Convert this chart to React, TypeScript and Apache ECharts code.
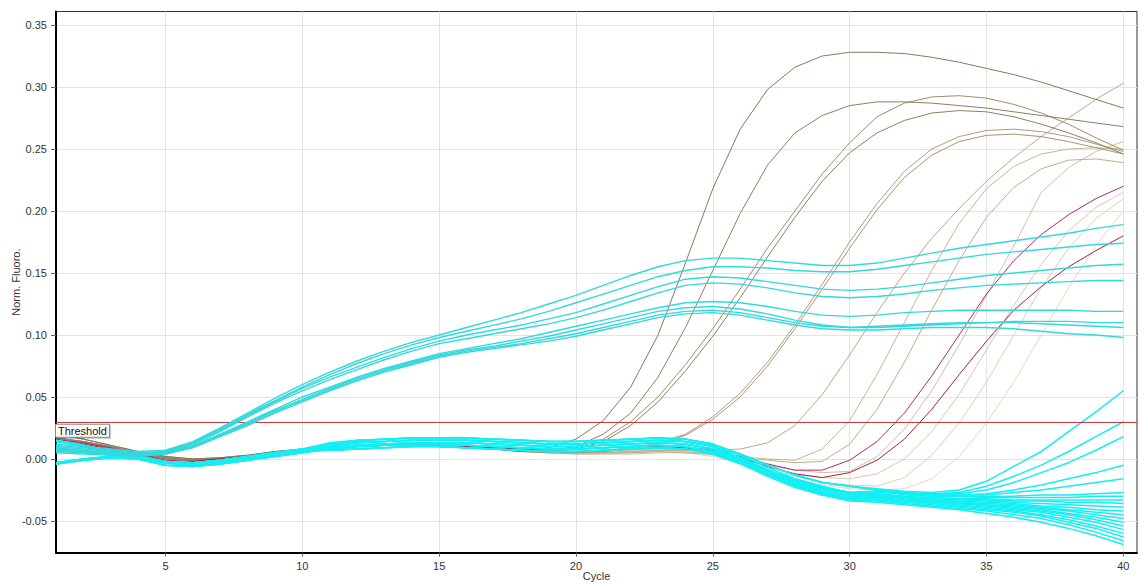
import { useEffect, useRef } from 'react';
import * as echarts from 'echarts';

// ---------- data ----------
const cycles = [1, 2, 3, 4, 5, 6, 7, 8, 9, 10, 11, 12, 13, 14, 15, 16, 17, 18, 19, 20, 21, 22, 23, 24, 25, 26, 27, 28, 29, 30, 31, 32, 33, 34, 35, 36, 37, 38, 39, 40];
const xTickValues = [5, 10, 15, 20, 25, 30, 35, 40];
const yTickValues = [-0.05, 0, 0.05, 0.1, 0.15, 0.2, 0.25, 0.3, 0.35];
const threshold = 0.029;

// amplification curves (brown / tan)
const b1 = [0.020, 0.016, 0.011, 0.006, 0.002, 0.000, 0.001, 0.003, 0.006, 0.008, 0.010, 0.011, 0.012, 0.012, 0.012, 0.011, 0.010, 0.008, 0.009, 0.016, 0.031, 0.058, 0.100, 0.158, 0.218, 0.266, 0.298, 0.316, 0.325, 0.328, 0.328, 0.327, 0.324, 0.320, 0.315, 0.310, 0.304, 0.297, 0.290, 0.283];
const b2 = [0.017, 0.014, 0.010, 0.005, 0.001, -0.001, 0.000, 0.002, 0.005, 0.007, 0.009, 0.010, 0.011, 0.011, 0.011, 0.010, 0.009, 0.007, 0.007, 0.010, 0.020, 0.037, 0.066, 0.106, 0.152, 0.198, 0.237, 0.263, 0.277, 0.285, 0.288, 0.288, 0.287, 0.285, 0.283, 0.280, 0.277, 0.274, 0.271, 0.268];
const b3 = [0.017, 0.014, 0.010, 0.005, 0.001, -0.001, 0.000, 0.002, 0.005, 0.007, 0.009, 0.010, 0.011, 0.011, 0.011, 0.010, 0.009, 0.007, 0.007, 0.009, 0.016, 0.030, 0.050, 0.076, 0.105, 0.137, 0.170, 0.200, 0.230, 0.255, 0.276, 0.287, 0.292, 0.293, 0.291, 0.286, 0.279, 0.270, 0.259, 0.249];
const b4 = [0.015, 0.013, 0.009, 0.004, 0.000, -0.001, 0.000, 0.002, 0.004, 0.007, 0.009, 0.010, 0.011, 0.011, 0.010, 0.009, 0.008, 0.006, 0.006, 0.008, 0.014, 0.027, 0.046, 0.071, 0.099, 0.130, 0.163, 0.195, 0.224, 0.247, 0.263, 0.273, 0.279, 0.281, 0.280, 0.276, 0.270, 0.263, 0.255, 0.246];
const b5 = [0.020, 0.016, 0.011, 0.006, 0.002, 0.000, 0.001, 0.003, 0.006, 0.008, 0.010, 0.011, 0.012, 0.012, 0.012, 0.011, 0.010, 0.007, 0.006, 0.006, 0.007, 0.009, 0.013, 0.020, 0.034, 0.053, 0.078, 0.108, 0.141, 0.175, 0.206, 0.232, 0.250, 0.260, 0.265, 0.266, 0.264, 0.260, 0.254, 0.248];
const b6 = [0.015, 0.013, 0.009, 0.004, 0.000, -0.001, 0.000, 0.002, 0.004, 0.007, 0.009, 0.010, 0.011, 0.011, 0.010, 0.009, 0.008, 0.006, 0.005, 0.005, 0.006, 0.008, 0.012, 0.019, 0.032, 0.050, 0.075, 0.105, 0.137, 0.170, 0.201, 0.227, 0.245, 0.256, 0.261, 0.262, 0.260, 0.256, 0.251, 0.246];
const b7 = [0.017, 0.014, 0.010, 0.005, 0.001, -0.001, 0.000, 0.002, 0.005, 0.007, 0.009, 0.010, 0.011, 0.011, 0.011, 0.010, 0.009, 0.007, 0.006, 0.005, 0.005, 0.006, 0.007, 0.007, 0.007, 0.008, 0.013, 0.027, 0.052, 0.084, 0.118, 0.150, 0.178, 0.202, 0.224, 0.243, 0.260, 0.275, 0.290, 0.303];
const b8 = [0.015, 0.013, 0.009, 0.004, 0.000, -0.001, 0.000, 0.002, 0.004, 0.007, 0.009, 0.010, 0.011, 0.011, 0.010, 0.009, 0.008, 0.006, 0.005, 0.004, 0.004, 0.004, 0.005, 0.005, 0.004, 0.002, 0.000, -0.001, 0.008, 0.031, 0.068, 0.110, 0.152, 0.190, 0.218, 0.236, 0.246, 0.250, 0.251, 0.250];
const b9 = [0.017, 0.014, 0.010, 0.005, 0.001, -0.001, 0.000, 0.002, 0.005, 0.007, 0.009, 0.010, 0.011, 0.011, 0.011, 0.010, 0.009, 0.007, 0.006, 0.005, 0.005, 0.005, 0.006, 0.005, 0.004, 0.001, -0.001, -0.003, -0.002, 0.012, 0.040, 0.078, 0.120, 0.160, 0.195, 0.219, 0.234, 0.241, 0.242, 0.239];
const m1 = [0.016, 0.013, 0.009, 0.004, -0.001, -0.002, 0.000, 0.002, 0.005, 0.007, 0.009, 0.010, 0.011, 0.011, 0.011, 0.010, 0.009, 0.008, 0.008, 0.008, 0.009, 0.010, 0.011, 0.010, 0.007, 0.002, -0.004, -0.009, -0.009, -0.001, 0.014, 0.037, 0.067, 0.100, 0.133, 0.160, 0.181, 0.197, 0.210, 0.220];
const m2 = [0.014, 0.012, 0.008, 0.003, -0.002, -0.002, 0.000, 0.002, 0.004, 0.007, 0.009, 0.010, 0.011, 0.011, 0.011, 0.010, 0.009, 0.008, 0.008, 0.008, 0.009, 0.010, 0.010, 0.009, 0.006, 0.001, -0.006, -0.012, -0.015, -0.011, -0.001, 0.016, 0.040, 0.068, 0.095, 0.120, 0.139, 0.155, 0.168, 0.180];
const b10 = [0.020, 0.016, 0.011, 0.006, 0.002, 0.000, 0.001, 0.003, 0.006, 0.008, 0.010, 0.011, 0.012, 0.012, 0.012, 0.011, 0.010, 0.008, 0.007, 0.006, 0.006, 0.007, 0.008, 0.007, 0.005, 0.000, -0.005, -0.009, -0.011, -0.010, 0.002, 0.024, 0.055, 0.092, 0.132, 0.172, 0.215, 0.235, 0.248, 0.256];
const b11 = [0.017, 0.014, 0.010, 0.005, 0.001, -0.001, 0.000, 0.002, 0.005, 0.007, 0.009, 0.010, 0.011, 0.011, 0.011, 0.010, 0.009, 0.007, 0.006, 0.005, 0.005, 0.006, 0.007, 0.006, 0.004, -0.001, -0.007, -0.012, -0.015, -0.016, -0.012, 0.000, 0.022, 0.052, 0.088, 0.124, 0.157, 0.184, 0.203, 0.215];
const b12 = [0.015, 0.013, 0.009, 0.004, 0.000, -0.001, 0.000, 0.002, 0.004, 0.007, 0.009, 0.010, 0.011, 0.011, 0.010, 0.009, 0.008, 0.006, 0.005, 0.005, 0.005, 0.006, 0.007, 0.006, 0.003, -0.002, -0.008, -0.014, -0.019, -0.021, -0.022, -0.015, 0.003, 0.029, 0.062, 0.100, 0.138, 0.170, 0.194, 0.210];
const b13 = [0.015, 0.013, 0.009, 0.004, 0.000, -0.001, 0.000, 0.002, 0.004, 0.007, 0.009, 0.010, 0.011, 0.011, 0.010, 0.009, 0.008, 0.006, 0.005, 0.004, 0.004, 0.005, 0.006, 0.005, 0.002, -0.003, -0.009, -0.016, -0.021, -0.024, -0.025, -0.024, -0.016, 0.002, 0.029, 0.062, 0.100, 0.138, 0.172, 0.200];

// cyan curves with early rise
const h1 = [0.012, 0.010, 0.008, 0.006, 0.007, 0.014, 0.025, 0.037, 0.049, 0.060, 0.070, 0.079, 0.087, 0.094, 0.100, 0.106, 0.112, 0.118, 0.125, 0.132, 0.140, 0.148, 0.155, 0.160, 0.162, 0.162, 0.160, 0.158, 0.156, 0.156, 0.158, 0.162, 0.166, 0.170, 0.173, 0.176, 0.179, 0.182, 0.186, 0.189];
const h2 = [0.011, 0.009, 0.007, 0.005, 0.006, 0.013, 0.024, 0.036, 0.047, 0.058, 0.068, 0.077, 0.085, 0.092, 0.098, 0.103, 0.108, 0.113, 0.119, 0.126, 0.133, 0.140, 0.147, 0.152, 0.155, 0.155, 0.154, 0.152, 0.151, 0.151, 0.153, 0.156, 0.159, 0.162, 0.165, 0.167, 0.169, 0.171, 0.173, 0.174];
const h3 = [0.010, 0.008, 0.006, 0.004, 0.006, 0.013, 0.023, 0.035, 0.046, 0.057, 0.066, 0.074, 0.082, 0.089, 0.095, 0.100, 0.104, 0.108, 0.113, 0.118, 0.125, 0.132, 0.139, 0.145, 0.147, 0.146, 0.143, 0.140, 0.137, 0.136, 0.137, 0.139, 0.142, 0.145, 0.148, 0.150, 0.152, 0.154, 0.156, 0.157];
const h4 = [0.009, 0.007, 0.005, 0.004, 0.005, 0.012, 0.022, 0.034, 0.045, 0.055, 0.064, 0.072, 0.080, 0.087, 0.093, 0.097, 0.101, 0.105, 0.109, 0.114, 0.120, 0.127, 0.134, 0.140, 0.142, 0.141, 0.138, 0.134, 0.131, 0.130, 0.131, 0.133, 0.136, 0.138, 0.140, 0.141, 0.142, 0.143, 0.144, 0.144];
const h5 = [0.008, 0.006, 0.005, 0.004, 0.005, 0.011, 0.020, 0.030, 0.040, 0.050, 0.058, 0.066, 0.073, 0.079, 0.085, 0.089, 0.093, 0.097, 0.102, 0.107, 0.112, 0.117, 0.122, 0.126, 0.127, 0.126, 0.123, 0.119, 0.116, 0.115, 0.116, 0.118, 0.119, 0.120, 0.120, 0.120, 0.120, 0.120, 0.119, 0.119];
const h6 = [0.007, 0.006, 0.004, 0.003, 0.004, 0.010, 0.019, 0.029, 0.039, 0.048, 0.057, 0.065, 0.072, 0.078, 0.084, 0.088, 0.091, 0.095, 0.099, 0.104, 0.109, 0.114, 0.119, 0.122, 0.123, 0.121, 0.117, 0.112, 0.108, 0.106, 0.107, 0.108, 0.109, 0.110, 0.110, 0.111, 0.111, 0.111, 0.110, 0.110];
const h7 = [0.006, 0.005, 0.004, 0.003, 0.004, 0.010, 0.019, 0.028, 0.038, 0.047, 0.056, 0.064, 0.071, 0.077, 0.083, 0.087, 0.090, 0.093, 0.097, 0.101, 0.106, 0.111, 0.116, 0.119, 0.120, 0.118, 0.114, 0.110, 0.107, 0.106, 0.106, 0.107, 0.108, 0.109, 0.110, 0.110, 0.109, 0.108, 0.107, 0.106];
const h8 = [0.005, 0.004, 0.003, 0.002, 0.004, 0.009, 0.018, 0.027, 0.037, 0.046, 0.055, 0.063, 0.070, 0.076, 0.082, 0.086, 0.089, 0.092, 0.095, 0.099, 0.104, 0.109, 0.114, 0.117, 0.118, 0.116, 0.112, 0.108, 0.105, 0.104, 0.104, 0.105, 0.106, 0.106, 0.106, 0.105, 0.103, 0.101, 0.100, 0.098];

// cyan baseline curves (late risers)
const r1 = [0.015, 0.011, 0.006, 0.002, -0.002, -0.003, -0.001, 0.002, 0.005, 0.008, 0.013, 0.015, 0.016, 0.017, 0.017, 0.017, 0.016, 0.015, 0.014, 0.014, 0.015, 0.016, 0.017, 0.016, 0.012, 0.004, -0.005, -0.013, -0.019, -0.022, -0.024, -0.026, -0.027, -0.025, -0.018, -0.006, 0.006, 0.022, 0.038, 0.055];
const r2 = [0.008, 0.006, 0.004, 0.001, -0.003, -0.004, -0.002, 0.001, 0.004, 0.007, 0.011, 0.013, 0.014, 0.015, 0.015, 0.015, 0.014, 0.013, 0.012, 0.012, 0.013, 0.014, 0.015, 0.014, 0.010, 0.004, -0.005, -0.013, -0.019, -0.022, -0.025, -0.027, -0.028, -0.027, -0.022, -0.014, -0.005, 0.006, 0.018, 0.030];
const r3 = [-0.003, 0.000, 0.002, 0.001, -0.003, -0.005, -0.003, 0.000, 0.003, 0.006, 0.010, 0.011, 0.012, 0.013, 0.013, 0.013, 0.012, 0.011, 0.010, 0.010, 0.011, 0.012, 0.013, 0.012, 0.008, 0.004, -0.005, -0.013, -0.019, -0.022, -0.025, -0.027, -0.028, -0.028, -0.025, -0.019, -0.011, -0.003, 0.007, 0.018];
const r4 = [0.015, 0.011, 0.006, 0.002, -0.002, -0.003, -0.001, 0.002, 0.005, 0.008, 0.008, 0.010, 0.011, 0.011, 0.011, 0.011, 0.010, 0.009, 0.008, 0.008, 0.009, 0.010, 0.011, 0.010, 0.006, 0.001, -0.009, -0.017, -0.023, -0.027, -0.026, -0.028, -0.029, -0.029, -0.028, -0.025, -0.021, -0.016, -0.011, -0.005];
const r5 = [-0.004, -0.001, 0.001, 0.000, -0.005, -0.006, -0.004, -0.001, 0.002, 0.005, 0.009, 0.013, 0.014, 0.015, 0.015, 0.015, 0.014, 0.013, 0.012, 0.012, 0.013, 0.014, 0.015, 0.014, 0.010, 0.001, -0.009, -0.017, -0.023, -0.027, -0.026, -0.028, -0.029, -0.029, -0.029, -0.027, -0.025, -0.022, -0.019, -0.016];
const r6 = [0.008, 0.006, 0.004, 0.001, -0.003, -0.004, -0.002, 0.001, 0.004, 0.007, 0.007, 0.008, 0.009, 0.010, 0.010, 0.009, 0.008, 0.007, 0.006, 0.006, 0.007, 0.008, 0.009, 0.008, 0.004, 0.001, -0.009, -0.017, -0.023, -0.027, -0.027, -0.028, -0.029, -0.030, -0.030, -0.030, -0.029, -0.029, -0.028, -0.027];

// cyan baseline curves (drifting down)
const d1 = [-0.003, 0.000, 0.002, 0.001, -0.003, -0.005, -0.003, 0.000, 0.003, 0.006, 0.012, 0.015, 0.016, 0.017, 0.017, 0.017, 0.016, 0.015, 0.014, 0.014, 0.015, 0.016, 0.017, 0.016, 0.012, 0.004, -0.005, -0.013, -0.019, -0.022, -0.025, -0.029, -0.030, -0.030, -0.031, -0.031, -0.031, -0.031, -0.030, -0.030];
const d2 = [0.015, 0.011, 0.006, 0.002, -0.002, -0.003, -0.001, 0.002, 0.005, 0.008, 0.010, 0.011, 0.012, 0.013, 0.013, 0.013, 0.012, 0.011, 0.010, 0.010, 0.011, 0.012, 0.013, 0.012, 0.008, 0.001, -0.009, -0.017, -0.023, -0.027, -0.028, -0.030, -0.031, -0.032, -0.032, -0.033, -0.033, -0.033, -0.033, -0.033];
const d3 = [-0.004, -0.001, 0.001, 0.000, -0.005, -0.006, -0.004, -0.001, 0.002, 0.005, 0.008, 0.010, 0.011, 0.011, 0.011, 0.011, 0.010, 0.009, 0.008, 0.008, 0.009, 0.010, 0.011, 0.010, 0.006, 0.001, -0.009, -0.017, -0.023, -0.027, -0.028, -0.030, -0.031, -0.032, -0.033, -0.034, -0.034, -0.035, -0.035, -0.036];
const d4 = [0.008, 0.006, 0.004, 0.001, -0.003, -0.004, -0.002, 0.001, 0.004, 0.007, 0.012, 0.015, 0.016, 0.017, 0.017, 0.017, 0.016, 0.015, 0.014, 0.014, 0.015, 0.016, 0.017, 0.016, 0.012, 0.003, -0.007, -0.016, -0.022, -0.027, -0.029, -0.031, -0.032, -0.033, -0.034, -0.035, -0.036, -0.037, -0.038, -0.039];
const d5 = [-0.003, 0.000, 0.002, 0.001, -0.003, -0.005, -0.003, 0.000, 0.003, 0.006, 0.007, 0.008, 0.009, 0.010, 0.010, 0.009, 0.008, 0.007, 0.006, 0.006, 0.007, 0.008, 0.009, 0.008, 0.004, 0.000, -0.010, -0.018, -0.024, -0.028, -0.029, -0.031, -0.033, -0.034, -0.035, -0.036, -0.038, -0.039, -0.041, -0.042];
const d6 = [0.015, 0.011, 0.006, 0.002, -0.002, -0.003, -0.001, 0.002, 0.005, 0.008, 0.011, 0.013, 0.014, 0.015, 0.015, 0.015, 0.014, 0.013, 0.012, 0.012, 0.013, 0.014, 0.015, 0.014, 0.010, 0.001, -0.009, -0.018, -0.024, -0.028, -0.030, -0.032, -0.033, -0.035, -0.036, -0.037, -0.039, -0.041, -0.043, -0.045];
const d7 = [-0.004, -0.001, 0.001, 0.000, -0.005, -0.006, -0.004, -0.001, 0.002, 0.005, 0.009, 0.011, 0.012, 0.013, 0.013, 0.013, 0.012, 0.011, 0.010, 0.010, 0.011, 0.012, 0.013, 0.012, 0.008, -0.001, -0.011, -0.019, -0.025, -0.029, -0.030, -0.032, -0.034, -0.035, -0.037, -0.038, -0.040, -0.042, -0.045, -0.048];
const d8 = [0.008, 0.006, 0.004, 0.001, -0.003, -0.004, -0.002, 0.001, 0.004, 0.007, 0.008, 0.010, 0.011, 0.011, 0.011, 0.011, 0.010, 0.009, 0.008, 0.008, 0.009, 0.010, 0.011, 0.010, 0.006, -0.002, -0.012, -0.020, -0.026, -0.030, -0.031, -0.033, -0.034, -0.036, -0.037, -0.039, -0.041, -0.044, -0.047, -0.051];
const d9 = [-0.003, 0.000, 0.002, 0.001, -0.003, -0.005, -0.003, 0.000, 0.003, 0.006, 0.011, 0.013, 0.014, 0.015, 0.015, 0.015, 0.014, 0.013, 0.012, 0.012, 0.013, 0.014, 0.015, 0.014, 0.010, -0.001, -0.012, -0.020, -0.027, -0.031, -0.031, -0.033, -0.035, -0.036, -0.038, -0.040, -0.042, -0.045, -0.049, -0.054];
const d10 = [0.015, 0.011, 0.006, 0.002, -0.002, -0.003, -0.001, 0.002, 0.005, 0.007, 0.007, 0.008, 0.009, 0.010, 0.010, 0.009, 0.008, 0.007, 0.006, 0.006, 0.007, 0.008, 0.009, 0.008, 0.004, -0.003, -0.013, -0.021, -0.028, -0.032, -0.032, -0.034, -0.035, -0.037, -0.039, -0.041, -0.043, -0.047, -0.051, -0.057];
const d11 = [-0.004, -0.001, 0.001, 0.000, -0.005, -0.006, -0.004, -0.001, 0.002, 0.006, 0.011, 0.014, 0.016, 0.017, 0.017, 0.017, 0.016, 0.015, 0.014, 0.014, 0.015, 0.016, 0.017, 0.016, 0.011, 0.000, -0.011, -0.020, -0.027, -0.032, -0.032, -0.034, -0.036, -0.038, -0.040, -0.042, -0.045, -0.049, -0.054, -0.060];
const d12 = [0.008, 0.006, 0.004, 0.001, -0.003, -0.004, -0.002, 0.001, 0.004, 0.007, 0.010, 0.011, 0.012, 0.013, 0.013, 0.013, 0.012, 0.011, 0.010, 0.010, 0.011, 0.012, 0.013, 0.012, 0.008, -0.002, -0.012, -0.021, -0.028, -0.033, -0.033, -0.035, -0.037, -0.039, -0.041, -0.043, -0.046, -0.051, -0.056, -0.063];
const d13 = [-0.003, 0.000, 0.002, 0.001, -0.003, -0.005, -0.003, 0.000, 0.003, 0.005, 0.008, 0.010, 0.011, 0.011, 0.011, 0.011, 0.010, 0.009, 0.008, 0.008, 0.009, 0.010, 0.011, 0.010, 0.005, -0.003, -0.013, -0.022, -0.029, -0.033, -0.034, -0.036, -0.038, -0.040, -0.042, -0.045, -0.048, -0.053, -0.059, -0.066];
const d14 = [0.014, 0.010, 0.005, 0.001, -0.003, -0.004, -0.002, 0.001, 0.004, 0.006, 0.007, 0.008, 0.009, 0.010, 0.010, 0.009, 0.008, 0.007, 0.006, 0.006, 0.007, 0.008, 0.009, 0.008, 0.004, -0.004, -0.014, -0.023, -0.029, -0.034, -0.035, -0.037, -0.039, -0.041, -0.044, -0.047, -0.051, -0.056, -0.062, -0.069];

// ---------- styling of each curve ----------
const brownCurves = [
  { values: b13, color: '#e3d9ba' },
  { values: b12, color: '#dcd1b1' },
  { values: b11, color: '#d6caa8' },
  { values: b10, color: '#cfc19f' },
  { values: b9, color: '#bfae8a' },
  { values: b8, color: '#c6b694' },
  { values: b7, color: '#bba987' },
  { values: b6, color: '#a8946f' },
  { values: b5, color: '#b09c7a' },
  { values: b4, color: '#8f7d64' },
  { values: b3, color: '#a18c6c' },
  { values: b2, color: '#937d62' },
  { values: b1, color: '#8a765e' },
];
const redCurves = [
  { values: m1, color: '#b02a6a' },
  { values: m2, color: '#a3203c' },
];
const highCyan = [h1, h2, h3, h4, h5, h6, h7, h8];
const lowCyan = [r1, r2, r3, r4, r5, r6, d1, d2, d3, d4, d5, d6, d7, d8, d9, d10, d11, d12, d13, d14];

const toPoints = (vals: number[]) => cycles.map((c, i) => [c, vals[i]]);

const lineSeries = (vals: number[], color: string, width: number, z: number) => ({
  type: 'line',
  data: toPoints(vals),
  showSymbol: false,
  symbol: 'none',
  silent: true,
  z,
  itemStyle: { color },
  lineStyle: { color, width },
});

const FONT = '"Liberation Sans", Arial, sans-serif';
const THRESHOLD_COLOR = '#c8383a';

export default function App() {
  const ref = useRef<HTMLDivElement>(null);
  useEffect(() => {
    if (!ref.current) return;
    const chart = echarts.init(ref.current, null, { renderer: 'svg' });
    const series: any[] = [];
    brownCurves.forEach((c) => series.push(lineSeries(c.values, c.color, 1, 2)));
    redCurves.forEach((c) => series.push(lineSeries(c.values, c.color, 1, 3)));
    lowCyan.forEach((v) => series.push(lineSeries(v, '#14eef3', 1.5, 4)));
    highCyan.forEach((v) => series.push(lineSeries(v, '#33d8dc', 1.4, 5)));
    series.push({
      type: 'line',
      data: [],
      silent: true,
      z: 6,
      color: THRESHOLD_COLOR,
      itemStyle: { color: THRESHOLD_COLOR },
      lineStyle: { color: THRESHOLD_COLOR },
      markLine: {
        silent: true,
        symbol: 'none',
        animation: false,
        itemStyle: { color: THRESHOLD_COLOR },
        lineStyle: { color: THRESHOLD_COLOR, width: 1, type: 'solid' },
        data: [{ yAxis: threshold, lineStyle: { color: THRESHOLD_COLOR, width: 1, type: 'solid' } }],
        label: {
          show: true,
          position: 'insideStartBottom',
          formatter: 'Threshold',
          fontFamily: FONT,
          fontSize: 11,
          color: '#111',
          backgroundColor: '#ffffff',
          borderColor: '#8a8a8a',
          borderWidth: 1,
          padding: [1, 2, 0, 2],
          distance: [0, 3],
          shadowColor: 'rgba(0,0,0,0.25)',
          shadowOffsetX: 1,
          shadowOffsetY: 1,
          shadowBlur: 1,
        },
        emphasis: { disabled: true },
      },
    });

    chart.setOption({
      animation: false,
      backgroundColor: '#ffffff',
      grid: {
        left: 56,
        right: 4,
        top: 11.5,
        bottom: 31.3,
        show: true,
        borderColor: '#333',
        borderWidth: 1,
        backgroundColor: 'transparent',
        containLabel: false,
        outerBoundsMode: 'none',
      },
      xAxis: {
        type: 'value',
        min: 1,
        max: 40.5,
        name: 'Cycle',
        nameLocation: 'middle',
        nameGap: 17,
        nameMoveOverlap: false,
        nameTextStyle: { fontFamily: FONT, fontSize: 11, color: '#333', verticalAlign: 'top', lineHeight: 12 },
        axisLine: { show: true, onZero: false, lineStyle: { color: '#000', width: 2 } },
        axisTick: { show: true, length: 4, customValues: xTickValues, lineStyle: { color: '#666' } },
        axisLabel: { customValues: xTickValues, fontFamily: FONT, fontSize: 11, color: '#333', margin: 8 },
        splitLine: { show: true, lineStyle: { color: '#e3e3e3', width: 1 } },
      },
      yAxis: {
        type: 'value',
        min: -0.0756,
        max: 0.3609,
        name: 'Norm. Fluoro.',
        nameLocation: 'middle',
        nameGap: 35,
        nameMoveOverlap: false,
        nameTextStyle: { fontFamily: FONT, fontSize: 11, color: '#333' },
        axisLine: { show: true, onZero: false, lineStyle: { color: '#000', width: 2 } },
        axisTick: { show: true, length: 5, customValues: yTickValues, lineStyle: { color: '#666' } },
        axisLabel: {
          customValues: yTickValues,
          fontFamily: FONT,
          fontSize: 11,
          color: '#333',
          margin: 9,
          formatter: (v: number) => v.toFixed(2),
        },
        splitLine: { show: true, lineStyle: { color: '#e3e3e3', width: 1 } },
      },
      series,
    });
    return () => chart.dispose();
  }, []);
  return (
    <div
      ref={ref}
      style={{ position: 'fixed', left: 0, top: 0, width: 1141, height: 584, background: '#fff' }}
    />
  );
}
